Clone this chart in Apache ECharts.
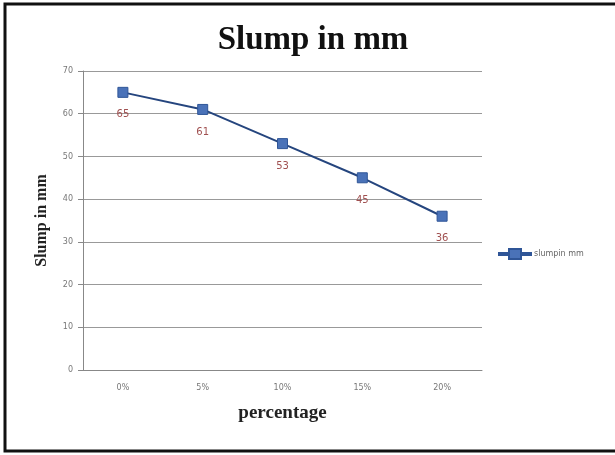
<!DOCTYPE html>
<html><head><meta charset="utf-8">
<script src="https://cdn.jsdelivr.net/npm/echarts@6/dist/echarts.min.js"></script>
<style>html,body{margin:0;padding:0;background:#fff}#c{width:615px;height:455px}</style>
</head><body><div id="c"></div>
<script>
const categories = ['0%', '5%', '10%', '15%', '20%'];
const slump = [65, 61, 53, 45, 36];
const yTicks = [0, 10, 20, 30, 40, 50, 60, 70];

const chart = echarts.init(document.getElementById('c'));
chart.setOption({
  animation: false,
  backgroundColor: '#fff',
  graphic: [{
    type: 'rect', shape: { x: 5, y: 4, width: 640, height: 447 },
    style: { fill: 'none', stroke: '#111', lineWidth: 3 }, z: 100
  }],
  title: {
    text: 'Slump in mm', left: 308, top: 19, textAlign: 'center',
    textStyle: { fontFamily: 'Liberation Serif', fontWeight: 'bold', fontSize: 33, color: '#111' }
  },
  legend: {
    data: [{ name: 'slumpin mm', icon: 'path://M0,4h10V0h12v4h10v2h-10v4H10V6H0z' }],
    left: 493, top: 243, itemWidth: 32, itemHeight: 10, itemGap: 2,
    textStyle: { fontFamily: 'DejaVu Sans', fontSize: 8, color: '#666', padding: [0, 0, 0, -2] }
  },
  grid: { left: 83, right: 133, top: 71, bottom: 85 },
  xAxis: {
    type: 'category', data: categories, boundaryGap: true,
    name: 'percentage', nameLocation: 'middle', nameGap: 34,
    nameTextStyle: { fontFamily: 'Liberation Serif', fontWeight: 'bold', fontSize: 19, color: '#222' },
    axisLine: { lineStyle: { color: '#888', width: 1 } },
    axisTick: { show: false },
    axisLabel: { fontFamily: 'DejaVu Sans', fontSize: 8, color: '#777', margin: 14 }
  },
  yAxis: {
    type: 'value', min: yTicks[0], max: yTicks[yTicks.length - 1], interval: 10,
    name: 'Slump in mm', nameLocation: 'middle', nameGap: 33, nameRotate: 90,
    nameTextStyle: { fontFamily: 'Liberation Serif', fontWeight: 'bold', fontSize: 16, color: '#222' },
    axisLine: { show: true, lineStyle: { color: '#888', width: 1 } },
    axisTick: { show: true, length: 5, inside: false, lineStyle: { color: '#888' } },
    axisLabel: { fontFamily: 'DejaVu Sans', fontSize: 8, color: '#777', margin: 10 },
    splitLine: { lineStyle: { color: '#999', width: 1 } }
  },
  series: [{
    name: 'slumpin mm', type: 'line', data: slump,
    symbol: 'rect', symbolSize: 10,
    lineStyle: { color: '#25457e', width: 2 },
    itemStyle: { color: '#4a72b8', borderColor: '#2f5597', borderWidth: 1 },
    label: { show: true, position: 'bottom', distance: 12, fontFamily: 'DejaVu Sans', fontSize: 10, color: '#a05050' }
  }]
});
</script></body></html>
